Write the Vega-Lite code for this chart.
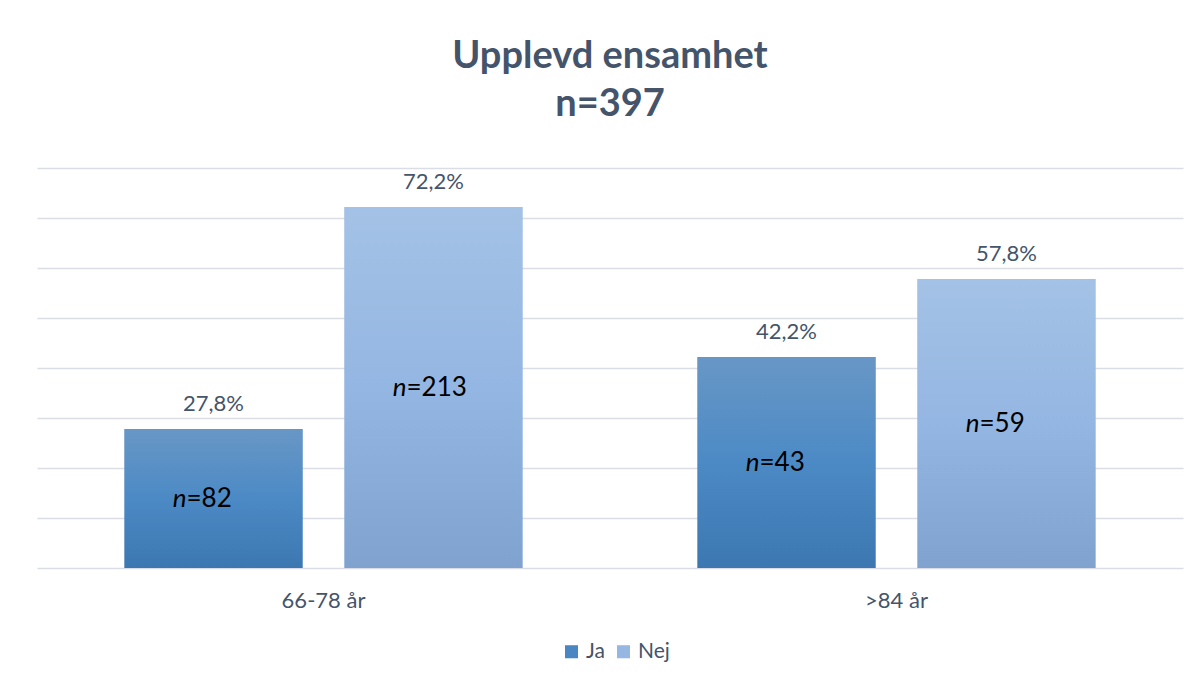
{
  "$schema": "https://vega.github.io/schema/vega-lite/v6.json",
  "width": 1146,
  "height": 400,
  "autosize": {"type": "none"},
  "padding": {"left": 37, "top": 168, "right": 17, "bottom": 116},
  "background": "#ffffff",
  "title": {
    "text": ["Upplevd ensamhet", "n=397"],
    "font": "Lato",
    "fontSize": 38,
    "fontWeight": "bold",
    "color": "#44546A",
    "lineHeight": 48,
    "anchor": "middle",
    "offset": 44
  },
  "data": {
    "values": [
      {"age": "66-78 år", "group": "Ja", "pct": 0.278, "n": 82, "nlabel": "=82"},
      {"age": "66-78 år", "group": "Nej", "pct": 0.722, "n": 213, "nlabel": "=213"},
      {"age": ">84 år", "group": "Ja", "pct": 0.422, "n": 43, "nlabel": "=43"},
      {"age": ">84 år", "group": "Nej", "pct": 0.578, "n": 59, "nlabel": "=59"}
    ]
  },
  "encoding": {
    "x": {
      "field": "age",
      "type": "nominal",
      "sort": ["66-78 år", ">84 år"],
      "scale": {"paddingInner": 0, "paddingOuter": 0},
      "axis": {
        "title": null,
        "labelAngle": 0,
        "ticks": false,
        "domain": false,
        "labelFont": "Lato",
        "labelFontSize": 22,
        "labelColor": "#44546A",
        "labelPadding": 22
      }
    },
    "xOffset": {
      "field": "group",
      "type": "nominal",
      "scale": {"domain": ["Ja", "Nej"], "paddingInner": 0.191, "paddingOuter": 0.398}
    }
  },
  "layer": [
    {
      "mark": {"type": "bar"},
      "encoding": {
        "y": {
          "field": "pct",
          "type": "quantitative",
          "scale": {"domain": [0, 0.8], "nice": false},
          "axis": {
            "title": null,
            "labels": false,
            "ticks": false,
            "domain": false,
            "grid": true,
            "gridColor": "#DADEE4",
            "gridWidth": 1.5,
            "values": [0, 0.1, 0.2, 0.3, 0.4, 0.5, 0.6, 0.7, 0.8]
          }
        },
        "color": {
          "field": "group",
          "type": "nominal",
          "scale": {"domain": ["Ja", "Nej"], "range": ["#4A86C2", "#95B7E2"]},
          "legend": {
            "title": null,
            "orient": "none",
            "direction": "horizontal",
            "legendX": 524,
            "legendY": 473,
            "symbolType": "square",
            "symbolSize": 170,
            "symbolStrokeWidth": 0,
            "labelFont": "Lato",
            "labelFontSize": 21,
            "labelColor": "#44546A",
            "labelOffset": 4,
            "columnPadding": 8
          }
        }
      }
    },
    {
      "mark": {"type": "bar"},
      "encoding": {
        "y": {"field": "pct", "type": "quantitative", "scale": {"domain": [0, 0.8], "nice": false}, "axis": null},
        "fill": {
          "condition": {
            "test": "datum.group === 'Ja'",
            "value": {
              "gradient": "linear",
              "x1": 0, "y1": 0, "x2": 0, "y2": 1,
              "stops": [
                {"offset": 0, "color": "#6897C6"},
                {"offset": 0.5, "color": "#4C8AC5"},
                {"offset": 1, "color": "#3C77B1"}
              ]
            }
          },
          "value": {
            "gradient": "linear",
            "x1": 0, "y1": 0, "x2": 0, "y2": 1,
            "stops": [
              {"offset": 0, "color": "#A4C2E6"},
              {"offset": 0.5, "color": "#94B6E2"},
              {"offset": 1, "color": "#7FA2CF"}
            ]
          }
        }
      }
    },
    {
      "mark": {
        "type": "text",
        "baseline": "alphabetic",
        "dy": -18,
        "font": "Lato",
        "fontSize": 22,
        "color": "#44546A"
      },
      "encoding": {
        "y": {"field": "pct", "type": "quantitative", "scale": {"domain": [0, 0.8], "nice": false}, "axis": null},
        "text": {"field": "pct", "type": "quantitative", "format": ".1%"}
      }
    },
    {
      "mark": {
        "type": "text",
        "align": "right",
        "baseline": "middle",
        "dx": -27,
        "font": "Lato",
        "fontSize": 26,
        "fontStyle": "italic",
        "color": "#000000"
      },
      "encoding": {
        "y": {"field": "pct", "type": "quantitative", "scale": {"domain": [0, 1.6], "nice": false}, "axis": null},
        "text": {"value": "n"}
      }
    },
    {
      "mark": {
        "type": "text",
        "align": "left",
        "baseline": "middle",
        "dx": -27,
        "font": "Lato",
        "fontSize": 26,
        "color": "#000000"
      },
      "encoding": {
        "y": {"field": "pct", "type": "quantitative", "scale": {"domain": [0, 1.6], "nice": false}, "axis": null},
        "text": {"field": "nlabel", "type": "nominal"}
      }
    }
  ],
  "resolve": {"scale": {"y": "independent"}},
  "config": {
    "view": {"stroke": null},
    "locale": {
      "number": {"decimal": ",", "thousands": " ", "grouping": [3], "currency": ["", " kr"]}
    }
  }
}
